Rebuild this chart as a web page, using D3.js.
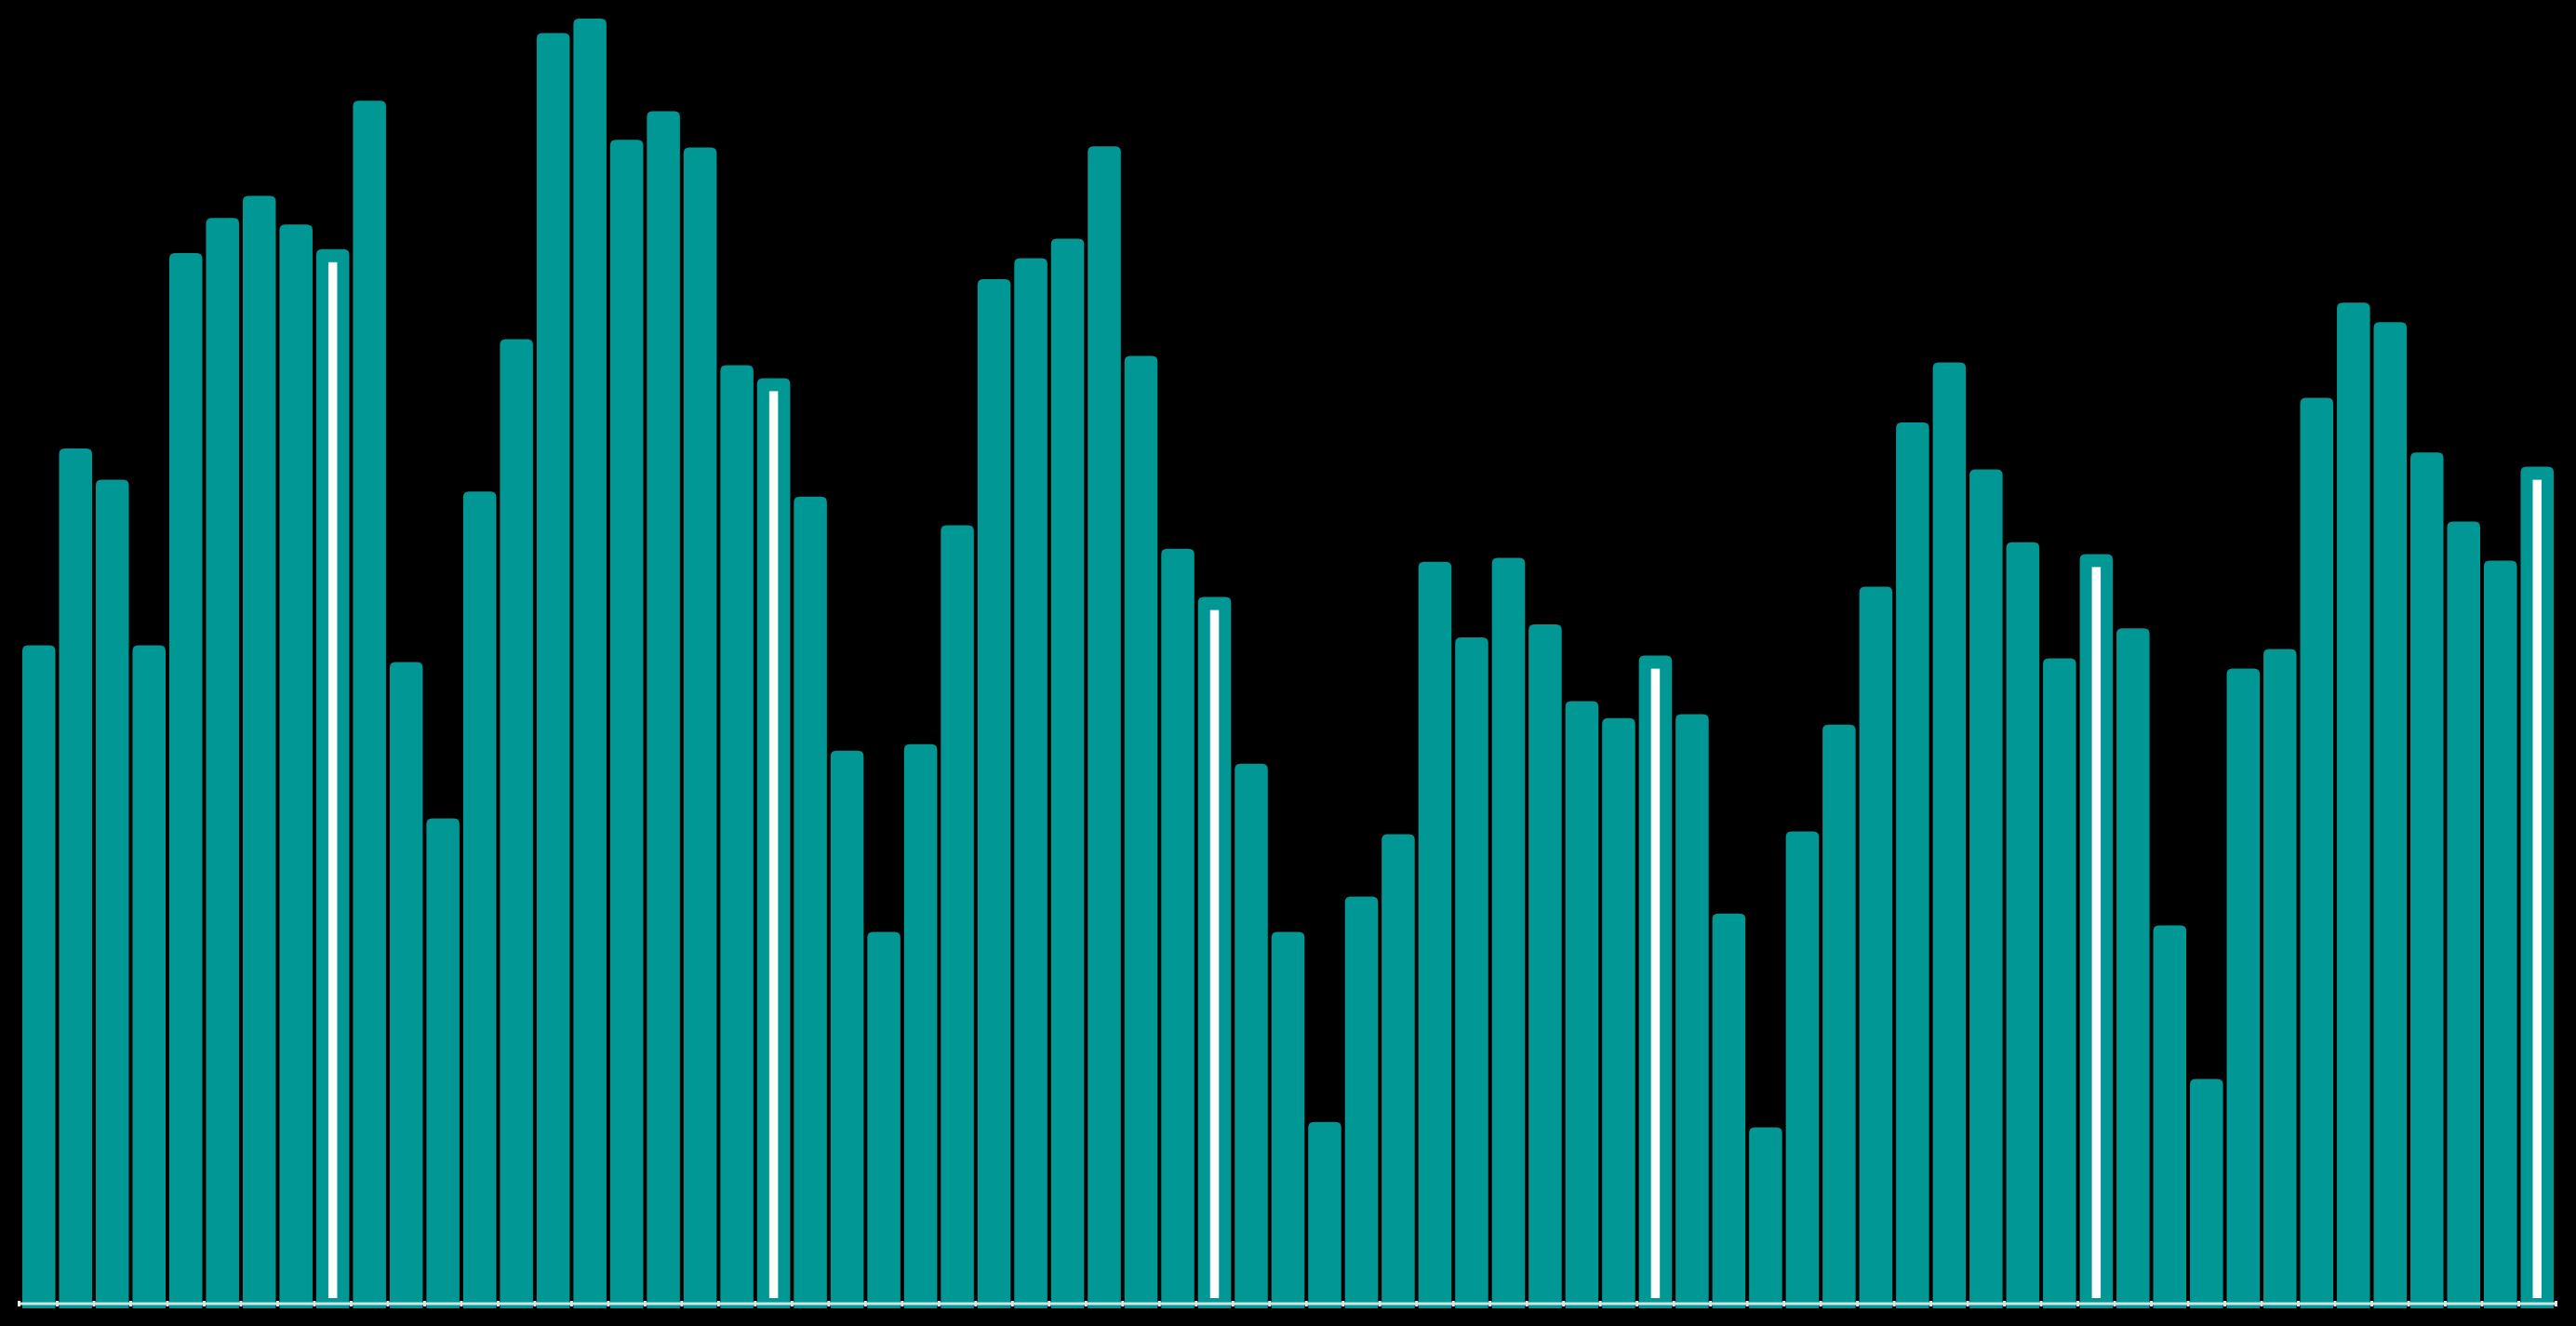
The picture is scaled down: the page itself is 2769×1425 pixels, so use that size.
<!DOCTYPE html>
<html>
<head>
<meta charset="utf-8">
<script src="https://cdn.jsdelivr.net/npm/d3@7"></script>
<style>
  html, body { margin: 0; padding: 0; background: #000; }
  svg { display: block; }
</style>
</head>
<body>
<svg id="chart" width="2769" height="1425"></svg>
<script>
// Data (arbitrary units, 0-100)
const categories = d3.range(69).map(i => "P" + (i + 1));
const values = [
  50.9, 66.0, 63.6, 50.9, 81.0, 83.7, 85.4, 83.2, 81.3, 92.7,
  49.6, 37.6, 62.7, 74.4, 97.9, 99.0, 89.7, 91.9, 89.1, 72.4,
  71.4, 62.3, 42.8, 28.9, 43.3, 60.1, 79.0, 80.6, 82.1, 89.2,
  73.1, 58.3, 54.6, 41.8, 28.9, 14.3, 31.6, 36.4, 57.3, 51.5,
  57.6, 52.5, 46.6, 45.3, 50.1, 45.6, 30.3, 13.9, 36.6, 44.8,
  55.4, 68.0, 72.6, 64.4, 58.8, 49.9, 57.9, 52.2, 29.4, 17.6,
  49.1, 50.6, 69.9, 77.2, 75.7, 65.7, 60.4, 57.4, 64.6
];
// bars carrying a white marker line
const highlighted = ["P9", "P21", "P33", "P45", "P57", "P69"];

const data = categories.map((c, i) => ({ cat: c, value: values[i], hi: highlighted.includes(c) }));

const svg = d3.select("#chart");
const W = 2769, H = 1425;
svg.append("rect").attr("width", W).attr("height", H).attr("fill", "#000");

const x = d3.scaleBand()
  .domain(categories)
  .range([22, 2747])
  .paddingInner(0.1)
  .paddingOuter(0.05);

const y = d3.scaleLinear().domain([0, 100]).range([1406, 6]);

const barColor = "#009794";
const r = 6;

function barPath(d) {
  const x0 = x(d.cat), w = x.bandwidth();
  const top = y(d.value), bottom = y(0);
  return `M${x0},${bottom}
          V${top + r}
          Q${x0},${top} ${x0 + r},${top}
          H${x0 + w - r}
          Q${x0 + w},${top} ${x0 + w},${top + r}
          V${bottom} Z`;
}

svg.append("g").selectAll("path")
  .data(data)
  .join("path")
  .attr("d", barPath)
  .attr("fill", barColor);

// white marker lines
const lw = 9.5;
svg.append("g").selectAll("rect")
  .data(data.filter(d => d.hi))
  .join("rect")
  .attr("x", d => x(d.cat) + x.bandwidth() / 2 - lw / 2)
  .attr("y", d => y(d.value) + 14)
  .attr("width", lw)
  .attr("height", d => (y(0) - 11) - (y(d.value) + 14))
  .attr("fill", "#ffffff");

// axis line
const axisY = 1401;
const axisG = svg.append("g");
axisG.append("line")
  .attr("x1", 20).attr("x2", 2748)
  .attr("y1", axisY).attr("y2", axisY)
  .attr("stroke", "#cfe4e4").attr("stroke-width", 3);

// tick marks at the gaps between bars
const gapPos = categories.slice(1).map(c => x(c) - (x.step() - x.bandwidth()) / 2);
axisG.selectAll("rect.tick")
  .data(gapPos)
  .join("rect")
  .attr("class", "tick")
  .attr("x", d => d - 1.5)
  .attr("y", axisY - 3)
  .attr("width", 3)
  .attr("height", 6)
  .attr("fill", "#d8e6e6");
axisG.append("rect").attr("x", 19).attr("y", axisY - 3).attr("width", 3).attr("height", 6).attr("fill", "#e8eef0");
axisG.append("rect").attr("x", 2746).attr("y", axisY - 3).attr("width", 3).attr("height", 6).attr("fill", "#e8e0ee");
</script>
</body>
</html>
